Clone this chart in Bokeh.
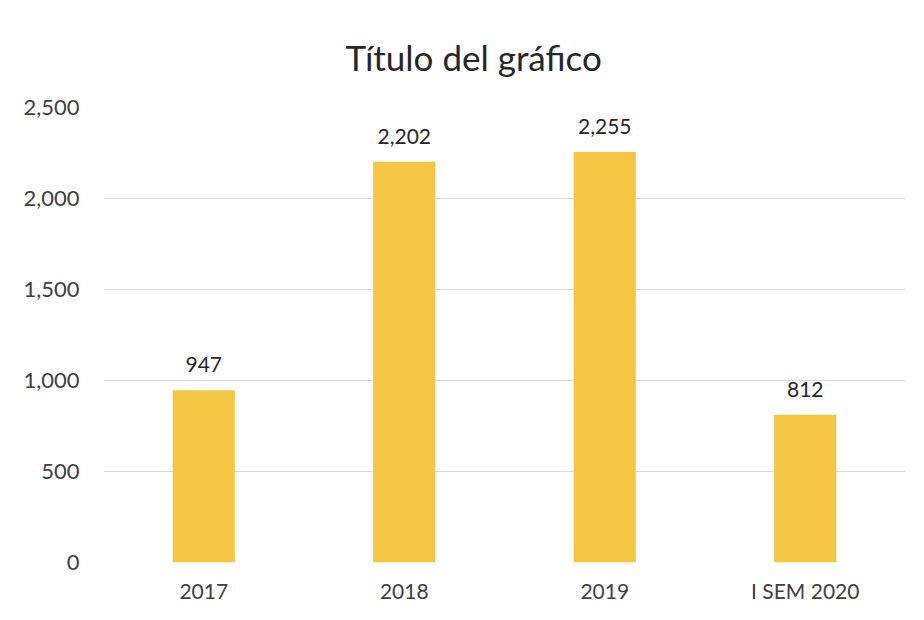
from bokeh.plotting import figure
from bokeh.models import ColumnDataSource, NumeralTickFormatter, LabelSet, FixedTicker
from bokeh.core.properties import value
from bokeh.embed import file_html
from bokeh.resources import INLINE

categories = ["2017", "2018", "2019", "I SEM 2020"]
values = [947, 2202, 2255, 812]
labels = ["947", "2,202", "2,255", "812"]
y_ticks = [0, 500, 1000, 1500, 2000, 2500]

FONT = "Lato"

src = ColumnDataSource(dict(cat=categories, val=values, lab=labels))

p = figure(x_range=categories, y_range=(0, 2500), width=908, height=617,
           output_backend="svg", toolbar_location=None,
           title="Título del gráfico",
           min_border_left=103, min_border_right=3, min_border_top=107, min_border_bottom=55)

p.vbar(x="cat", top="val", width=0.31, source=src, fill_color="#F5C644", line_color=None)

p.add_layout(LabelSet(x="cat", y="val", text="lab", source=src, text_align="center",
                      text_baseline="bottom", y_offset=18, text_font=value(FONT),
                      text_font_size="21px", text_color="#262626"))

p.title.align = "left"
p.title.offset = 242
p.title.text_font = FONT
p.title.text_font_size = "35px"
p.title.text_font_style = "normal"
p.title.text_color = "#262626"
p.title.standoff = 60

p.yaxis.ticker = FixedTicker(ticks=y_ticks)
p.yaxis.formatter = NumeralTickFormatter(format="0,0")
for ax in (p.xaxis, p.yaxis):
    ax.axis_line_color = None
    ax.major_tick_line_color = None
    ax.minor_tick_line_color = None
    ax.major_label_text_font = FONT
    ax.major_label_text_font_size = "21px"
    ax.major_label_text_color = "#404040"
p.yaxis.major_label_text_font_size = "22px"
p.yaxis.major_label_standoff = 18
p.xaxis.major_label_standoff = 9

p.xgrid.grid_line_color = None
p.ygrid.grid_line_color = "#D9D9D9"
p.ygrid.grid_line_width = 1
p.outline_line_color = None
p.x_range.range_padding = 0.0

open("out.html", "w").write(file_html(p, INLINE))
